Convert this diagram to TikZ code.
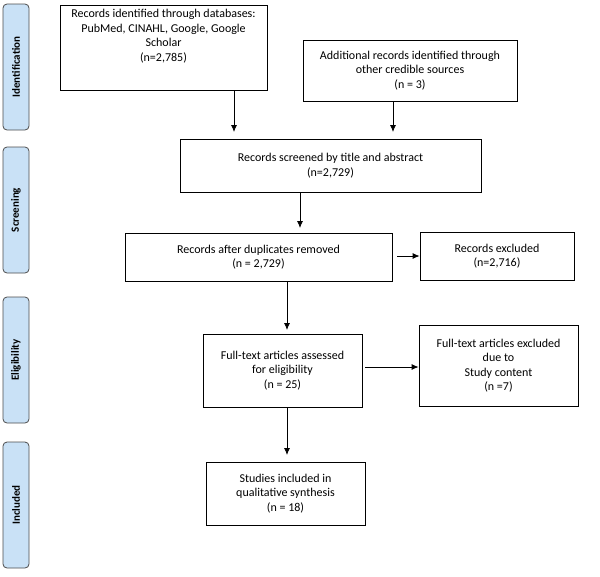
\documentclass[tikz,border=0pt]{standalone}
\usepackage{fontspec}
\setmainfont{Carlito}
\usetikzlibrary{arrows.meta}
\definecolor{stagefill}{HTML}{C9E1F6}
\begin{document}
\begin{tikzpicture}[x=1pt,y=-1pt,
    box/.style={draw,thick,align=center,font=\fontsize{12}{14.5}\selectfont,inner sep=2pt},
    stage/.style={draw=black!70,thick,fill=stagefill,rounded corners=4pt,minimum width=126pt,minimum height=26pt,rotate=90,font=\bfseries\fontsize{11}{12}\selectfont},
    arr/.style={-{Latex[length=7pt,width=6pt]},thick}]
  \useasboundingbox (0,0) rectangle (600,576);
  % stage labels
  \node[stage] (ident) at (16,67) {Identification};
  \node[stage] (screen) at (16,210) {Screening};
  \node[stage] (elig) at (16,360) {Eligibility};
  \node[stage] (incl) at (16,505) {Included};
  % boxes
  \node[box,minimum width=207pt,minimum height=85pt] (db) at (163.5,47.5) {Records identified through databases:\\PubMed, CINAHL, Google, Google\\Scholar\\(n=2,785)\\[10pt]};
  \node[box,minimum width=214pt,minimum height=61pt] (other) at (410,70.5) {Additional records identified through\\other credible sources\\(n = 3)};
  \node[box,minimum width=301pt,minimum height=53pt] (scr) at (330.5,165.5) {Records screened by title and abstract\\(n=2,729)};
  \node[box,minimum width=267pt,minimum height=48pt] (dup) at (258.5,257) {Records after duplicates removed\\(n = 2,729)};
  \node[box,minimum width=154pt,minimum height=48pt] (excl) at (497,256) {Records excluded\\(n=2,716)};
  \node[box,minimum width=159pt,minimum height=73pt] (full) at (282.5,370.5) {Full-text articles assessed\\for eligibility\\(n = 25)};
  \node[box,minimum width=159pt,minimum height=81pt] (fexcl) at (498.5,365.5) {Full-text articles excluded\\due to\\Study content\\(n =7)};
  \node[box,minimum width=159pt,minimum height=63pt] (incl8) at (285.5,493.5) {Studies included in\\qualitative synthesis\\(n = 18)};
  % connectors
  \coordinate (dupout) at (397,256);
  \coordinate (fullout) at (365,367);
  \draw[arr] (db.south -| 234,0) -- (234,132);
  \draw[arr] (393,101) -- (393,132);
  \draw[arr] (scr.south -| 300,0) -- (300,228);
  \draw[arr] (dupout) -- (dupout -| excl.west);
  \draw[arr] (dup.south -| 287,0) -- (287,330);
  \draw[arr] (fullout) -- (fullout -| fexcl.west);
  \draw[arr] (full.south -| 287,0) -- (287,455);
\end{tikzpicture}
\end{document}
